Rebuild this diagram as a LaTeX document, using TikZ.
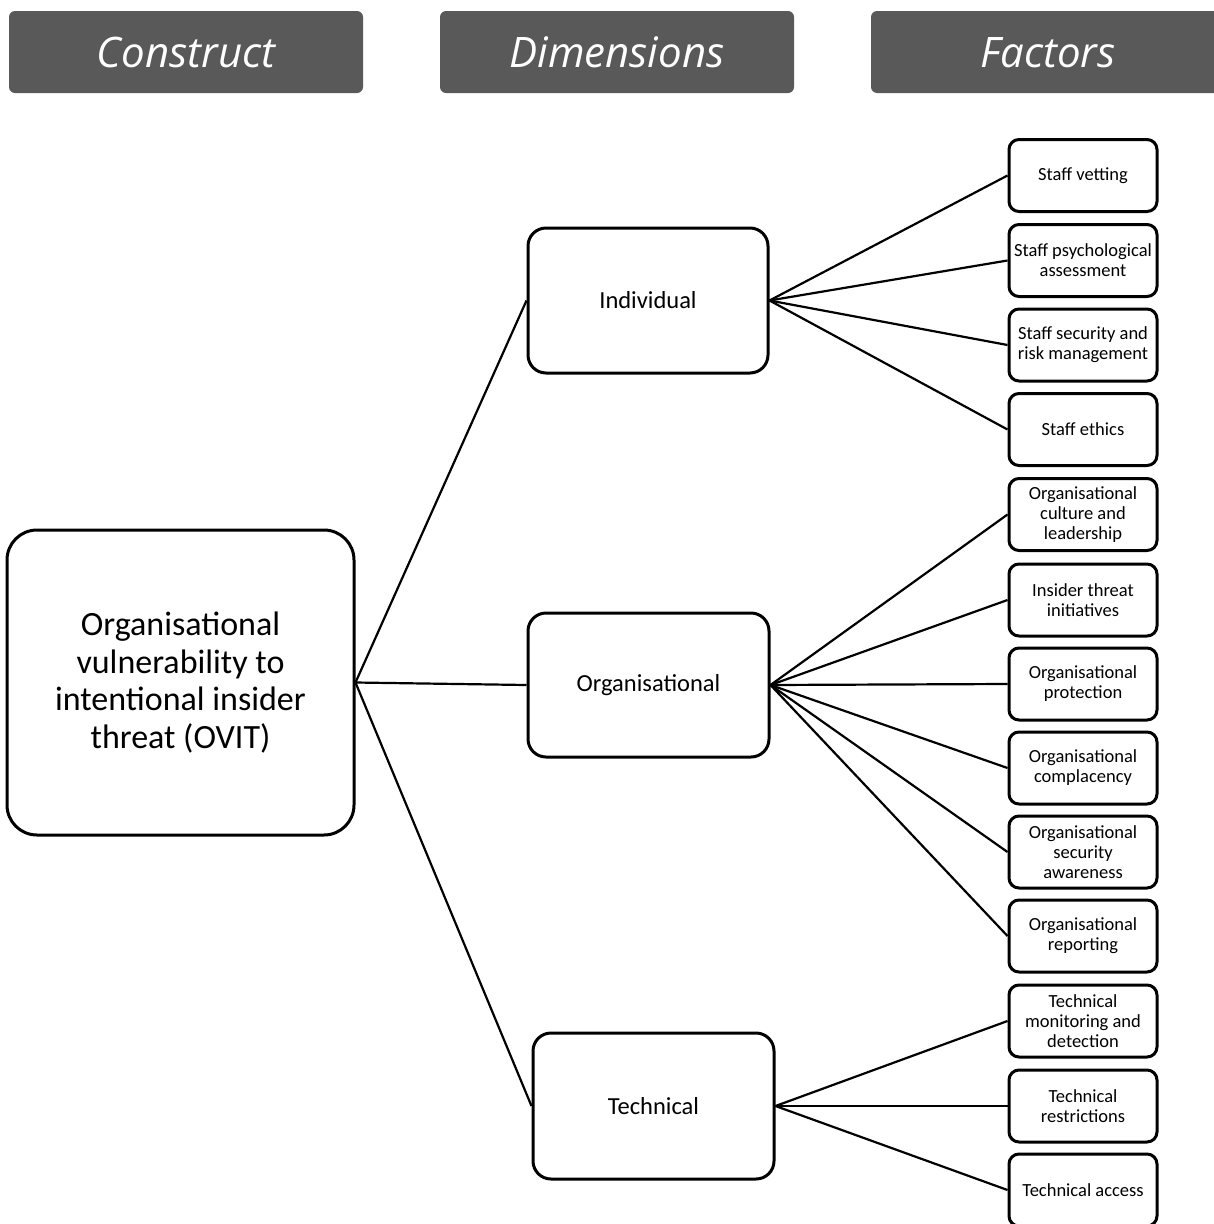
\documentclass[tikz,border=0pt]{standalone}
\usepackage{fontspec}
\setmainfont{Carlito}
\newfontfamily\headfont{Open Sans}
\begin{document}
\begin{tikzpicture}[x=1pt,y=-1pt,
  header/.style={fill=black!65, rounded corners=6pt, minimum width=354pt, minimum height=82pt,
    inner sep=0pt, text height=30pt, text depth=0pt, text=white,
    font=\headfont\itshape\fontsize{42}{46}\selectfont},
  construct/.style={draw=black, line width=3pt, rounded corners=30pt, align=center,
    minimum width=347pt, minimum height=305pt, inner sep=0pt,
    font=\fontsize{34}{37.5}\selectfont},
  dimbox/.style={draw=black, line width=3pt, rounded corners=18pt, align=center,
    minimum width=240pt, minimum height=145pt, inner sep=0pt,
    font=\fontsize{24.5}{28}\selectfont},
  factor/.style={draw=black, line width=3pt, rounded corners=10pt, align=center,
    minimum width=148pt, minimum height=72pt, inner sep=0pt,
    font=\fontsize{18.5}{20}\selectfont},
  link/.style={draw=black, line width=2.2pt}
]
\clip (0,0) rectangle (1214,1224);
\useasboundingbox (0,0) rectangle (1214,1224);

% column headings
\node[header] (hc) at (186,52) {Construct};
\node[header] (hd) at (617,52) {Dimensions};
\node[header] (hf) at (1048,52) {Factors};

% construct
\node[construct] (ovit) at (180.5,682.5) {Organisational\\vulnerability to\\intentional insider\\threat (OVIT)};

% dimensions
\node[dimbox] (ind) at (648,300.5) {Individual};
\node[dimbox, minimum width=241pt, minimum height=144pt] (org) at (648.5,685) {Organisational};
\node[dimbox, minimum width=241pt, minimum height=146pt] (tec) at (653.5,1106) {Technical};

% factors
\node[factor] (f1) at (1083,175.5) {Staff vetting};
\node[factor] (f2) at (1083,260.5) {Staff psychological\\assessment};
\node[factor] (f3) at (1083,345) {Staff security and\\risk management};
\node[factor] (f4) at (1083,429.5) {Staff ethics};
\node[factor] (f5) at (1083,514.5) {Organisational\\culture and\\leadership};
\node[factor] (f6) at (1083,600) {Insider threat\\initiatives};
\node[factor] (f7) at (1083,684) {Organisational\\protection};
\node[factor] (f8) at (1083,768) {Organisational\\complacency};
\node[factor] (f9) at (1083,852) {Organisational\\security\\awareness};
\node[factor] (f10) at (1083,936) {Organisational\\reporting};
\node[factor] (f11) at (1083,1021) {Technical\\monitoring and\\detection};
\node[factor] (f12) at (1083,1106) {Technical\\restrictions};
\node[factor] (f13) at (1083,1190) {Technical access};

% construct to dimensions
\foreach \d in {ind,org,tec}
  \draw[link] (ovit.east) -- (\d.west);

% dimensions to factors
\foreach \f in {f1,f2,f3,f4}
  \draw[link] (ind.east) -- (\f.west);
\foreach \f in {f5,f6,f7,f8,f9,f10}
  \draw[link] (org.east) -- (\f.west);
\foreach \f in {f11,f12,f13}
  \draw[link] (tec.east) -- (\f.west);
\end{tikzpicture}
\end{document}
